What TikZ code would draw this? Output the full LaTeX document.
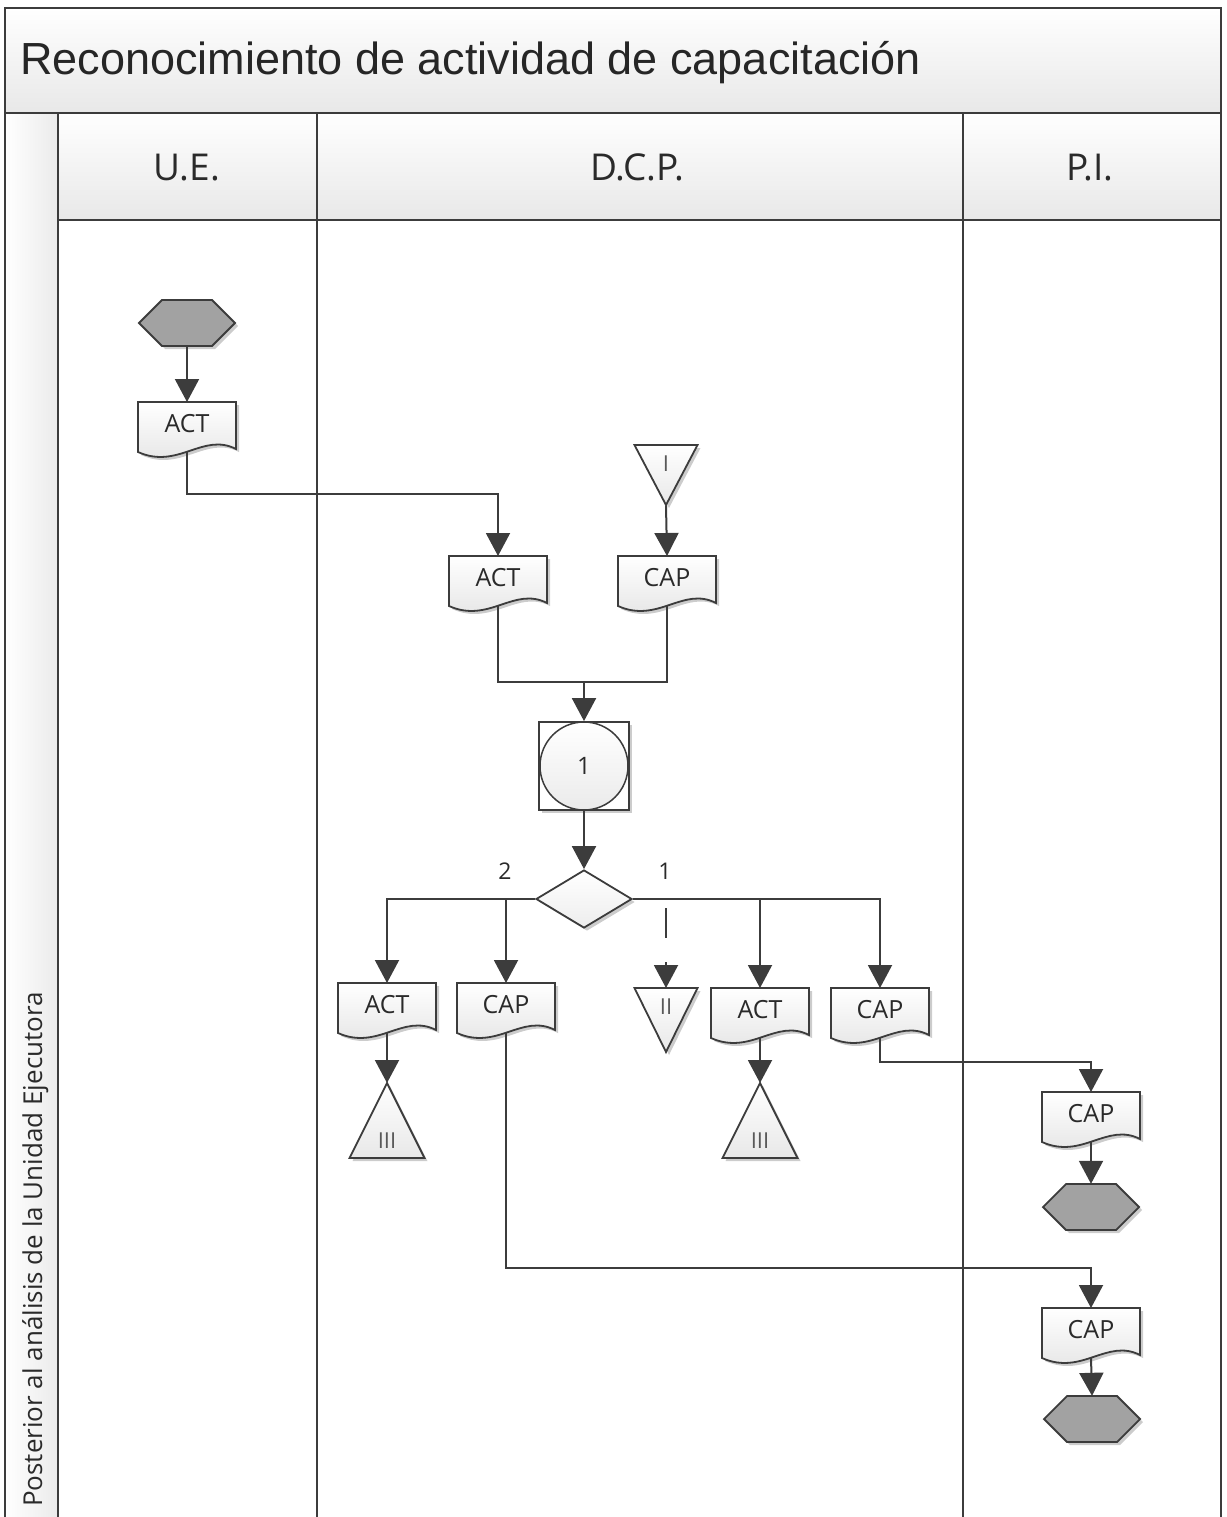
\documentclass[tikz,border=0pt]{standalone}
\usepackage{fontspec}
\setmainfont{Open Sans}
\newfontfamily\titlefont{Liberation Sans}
\usetikzlibrary{arrows.meta,shapes.geometric,shadows,calc}
\definecolor{ln}{HTML}{3C3C3C}
\definecolor{txt}{HTML}{2A2A2A}
\definecolor{hexfill}{HTML}{A2A2A2}
\tikzset{
  frame/.style={draw=ln, line width=2pt},
  lanesep/.style={draw=ln, line width=1.6pt},
  conn/.style={draw=ln, line width=2pt},
  arr/.style={conn, -{Triangle[length=23pt,width=24pt]}},
  shad/.style={drop shadow={shadow xshift=3pt, shadow yshift=-3pt, opacity=0.2, fill=black}},
  docbox/.style={inner xsep=0pt, inner ysep=0pt, minimum width=98pt, text height=30pt, text depth=19pt, anchor=north, font=\fontsize{25}{25}\selectfont, text=txt},
  docshape/.style={draw=ln, line width=1.8pt, top color=white, bottom color=black!11, shad},
  hexbox/.style={inner sep=0pt, minimum width=96pt, minimum height=46pt},
  hexshape/.style={draw=ln, line width=1.8pt, fill=hexfill, shad},
  trishape/.style={draw=ln, line width=1.8pt, top color=white, bottom color=black!9, shad},
  trilab/.style={inner xsep=0pt, inner ysep=0pt, anchor=north, font=\fontsize{22}{22}\selectfont, text=black!65},
  hdr/.style={anchor=base, font=\fontsize{37}{37}\selectfont, text=txt},
  declab/.style={font=\fontsize{23}{23}\selectfont, text=txt},
}
\newcommand{\docnode}[4]{%
  \path[docshape] ($(#2,#3)+(-49,0)$) -- ($(#2,#3)+(49,0)$) -- ($(#2,#3)+(49,47)$)
    .. controls ($(#2,#3)+(16,30)$) and ($(#2,#3)+(-9,68)$) .. ($(#2,#3)+(-49,50)$) -- cycle;
  \node[docbox] (#1) at (#2,#3) {#4};}
\newcommand{\hexnode}[3]{%
  \path[hexshape] ($(#2,#3)+(-48,0)$) -- ($(#2,#3)+(-25,-23)$) -- ($(#2,#3)+(25,-23)$)
    -- ($(#2,#3)+(48,0)$) -- ($(#2,#3)+(25,23)$) -- ($(#2,#3)+(-25,23)$) -- cycle;
  \node[hexbox] (#1) at (#2,#3) {};}
% down triangle: name, cx, top, height, text
\newcommand{\downtri}[5]{%
  \path[trishape] ($(#2,#3)+(-31.5,0)$) -- ($(#2,#3)+(31.5,0)$) -- ($(#2,#3)+(0,#4)$) -- cycle;
  \node[trilab, minimum width=63pt, text height=26pt, text depth=#4pt-26pt] (#1) at (#2,#3) {#5};}
% up triangle: name, cx, apex y, text
\newcommand{\uptri}[4]{%
  \path[trishape] ($(#2,#3)$) -- ($(#2,#3)+(37.5,75)$) -- ($(#2,#3)+(-37.5,75)$) -- cycle;
  \node[trilab, minimum width=75pt, text height=65pt, text depth=10pt] (#1) at (#2,#3) {#4};}
\begin{document}
\begin{tikzpicture}[x=1pt,y=-1pt]
\useasboundingbox (0,0) rectangle (1226,1517);
% bands
\path[top color=white, bottom color=black!9] (5,8) rectangle (1221,113);
\path[top color=white, bottom color=black!9] (58,113) rectangle (1221,220);
\path[left color=white, right color=black!8] (5,113) rectangle (58,1517);
\draw[frame] (5,1517) -- (5,8) -- (1221,8) -- (1221,1517);
\draw[frame] (5,113) -- (1221,113);
\draw[frame] (58,220) -- (1221,220);
\draw[lanesep] (58,113) -- (58,1517);
\draw[lanesep] (317,113) -- (317,1517);
\draw[lanesep] (963,113) -- (963,1517);
% texts
\node[anchor=base west, inner sep=0pt, font=\titlefont\fontsize{45}{45}\selectfont, text=black!85] (title) at (20,75) {Reconocimiento de actividad de capacitación};
\node[hdr] (hUE) at (187,181) {U.E.};
\node[hdr] (hDCP) at (637,181) {D.C.P.};
\node[hdr] (hPI) at (1090,181) {P.I.};
\node[rotate=90, anchor=base west, inner sep=0pt, font=\fontsize{26}{26}\selectfont, text=txt] (side) at (42,1507) {Posterior al análisis de la Unidad Ejecutora};
% shapes
\hexnode{hex1}{187}{323}
\docnode{act1}{187}{402}{ACT}
\downtri{triI}{666}{445}{60}{I}
\docnode{act2}{498}{556}{ACT}
\docnode{cap2}{667}{556}{CAP}
\node[draw=ln, line width=1.8pt, fill=white, shad, minimum width=90pt, minimum height=88pt, inner sep=0pt] (box) at (584,766) {};
\node[circle, draw=ln, line width=1.5pt, top color=white, bottom color=black!8, minimum size=88pt, inner sep=0pt, font=\fontsize{24}{24}\selectfont, text=txt] (c1) at (box.center) {1};
\node[diamond, draw=ln, line width=1.8pt, top color=white, bottom color=black!7, shad, minimum width=96pt, minimum height=58pt, inner sep=0pt] (dia) at (584,899) {};
\node[declab] (l2) at (505,871) {2};
\node[declab] (l1) at (665,871) {1};
\docnode{act3}{387}{983}{ACT}
\docnode{cap3}{506}{983}{CAP}
\downtri{triII}{666}{988}{64}{II}
\docnode{act4}{760}{988}{ACT}
\docnode{cap4}{880}{988}{CAP}
\uptri{triIIIa}{387}{1083}{III}
\uptri{triIIIb}{760}{1083}{III}
\docnode{cap5}{1091}{1092}{CAP}
\hexnode{hex2}{1091}{1207}
\docnode{cap6}{1091}{1308}{CAP}
\hexnode{hex3}{1092}{1419}
% connectors
\coordinate (y494) at (0,494);
\coordinate (m1) at (584,682);
\coordinate (y1062) at (0,1062);
\coordinate (y1268) at (0,1268);
\draw[arr] (hex1.south) -- (act1.north);
\draw[arr] (act1.south) -- (act1.south |- y494) -| (act2.north);
\draw[arr] (triI.south) -- (cap2.north);
\draw[conn] (act2.south) |- (m1) -| (cap2.south);
\draw[arr] (m1) -- (box.north);
\draw[arr] (box.south) -- (dia.north);
\draw[arr] (dia.west) -| (act3.north);
\draw[arr] (cap3.north |- dia.west) -- (cap3.north);
\draw[arr] (dia.east) -| (cap4.north);
\draw[arr] (act4.north |- dia.east) -- (act4.north);
\draw[arr, dash pattern=on 30pt off 24pt] ($(triII.north |- dia.east)+(0,9)$) -- (triII.north);
\draw[arr] (act3.south) -- (triIIIa.north);
\draw[arr] (act4.south) -- (triIIIb.north);
\draw[arr] (cap4.south) -- (cap4.south |- y1062) -| (cap5.north);
\draw[arr] (cap5.south) -- (hex2.north);
\draw[arr] (cap3.south) -- (cap3.south |- y1268) -| (cap6.north);
\draw[arr] (cap6.south) -- (hex3.north);
\end{tikzpicture}
\end{document}
